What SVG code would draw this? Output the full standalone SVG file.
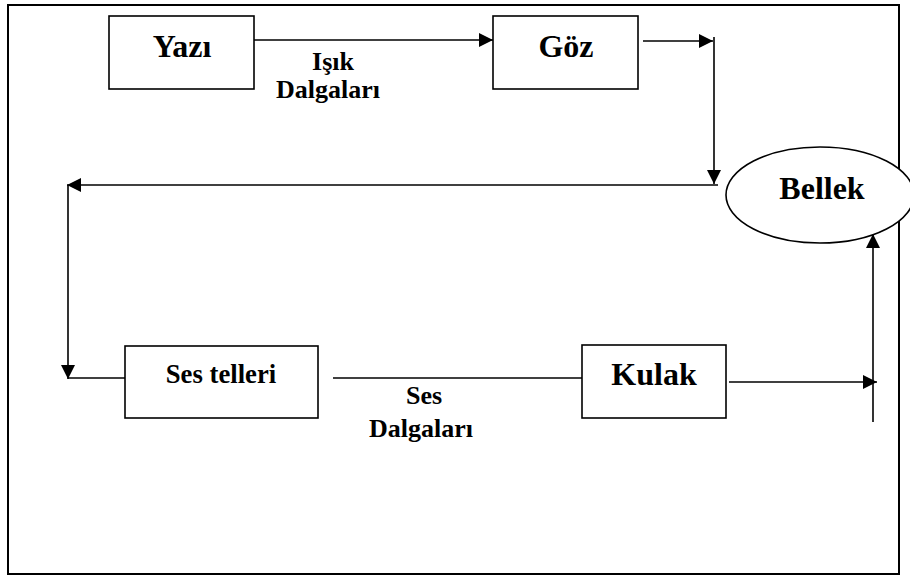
<svg xmlns="http://www.w3.org/2000/svg" width="910" height="579" viewBox="0 0 910 579">
<style>
.box{fill:#fff;stroke:#000;stroke-width:1.6}
.t{font-family:"Liberation Serif","Times New Roman",serif;font-weight:bold;fill:#000;text-anchor:middle}
.big{font-size:32px}
.mid{font-size:26.7px}
.lbl{font-size:26px}
.c{stroke:#000;stroke-width:1.6;fill:none}
</style>
<defs>
<marker id="ah" viewBox="0 0 10 10" refX="10" refY="5" markerWidth="14" markerHeight="14" markerUnits="userSpaceOnUse" orient="auto">
<path d="M0,0 L10,5 L0,10 Z" fill="#000"/>
</marker>
</defs>
<rect x="8" y="5" width="891" height="569" fill="#fff" stroke="#000" stroke-width="2"/>
<g id="connectors">
<line class="c" x1="254" y1="40" x2="493" y2="40" marker-end="url(#ah)"/>
<line class="c" x1="643" y1="41" x2="713" y2="41" marker-end="url(#ah)"/>
<line class="c" x1="714" y1="37" x2="714" y2="184" marker-end="url(#ah)"/>
<line class="c" x1="718" y1="185" x2="67" y2="185" marker-end="url(#ah)"/>
<line class="c" x1="68" y1="185" x2="68" y2="379" marker-end="url(#ah)"/>
<line class="c" x1="68" y1="378" x2="125" y2="378"/>
<line class="c" x1="333" y1="378" x2="583" y2="378"/>
<line class="c" x1="729" y1="382" x2="877" y2="382" marker-end="url(#ah)"/>
<line class="c" x1="873" y1="422" x2="873" y2="234" marker-end="url(#ah)"/>
</g>
<g id="yazi">
<rect class="box" x="109" y="16" width="145" height="73"/>
<text class="t big" x="182" y="57">Yazı</text>
</g>
<g id="goz">
<rect class="box" x="493" y="16" width="145" height="73"/>
<text class="t big" x="566" y="57">Göz</text>
</g>
<g id="bellek">
<ellipse class="box" cx="820" cy="195" rx="94" ry="48"/>
<text class="t big" x="822" y="199">Bellek</text>
</g>
<g id="ses-telleri">
<rect class="box" x="125" y="346" width="193" height="72"/>
<text class="t mid" x="221" y="383">Ses telleri</text>
</g>
<g id="kulak">
<rect class="box" x="582" y="345" width="144" height="73"/>
<text class="t big" x="654" y="385">Kulak</text>
</g>
<g id="labels">
<text class="t lbl" x="333" y="70">Işık</text>
<text class="t lbl" x="328" y="98">Dalgaları</text>
<text class="t lbl" x="424" y="404">Ses</text>
<text class="t lbl" x="421" y="437">Dalgaları</text>
</g>
</svg>
